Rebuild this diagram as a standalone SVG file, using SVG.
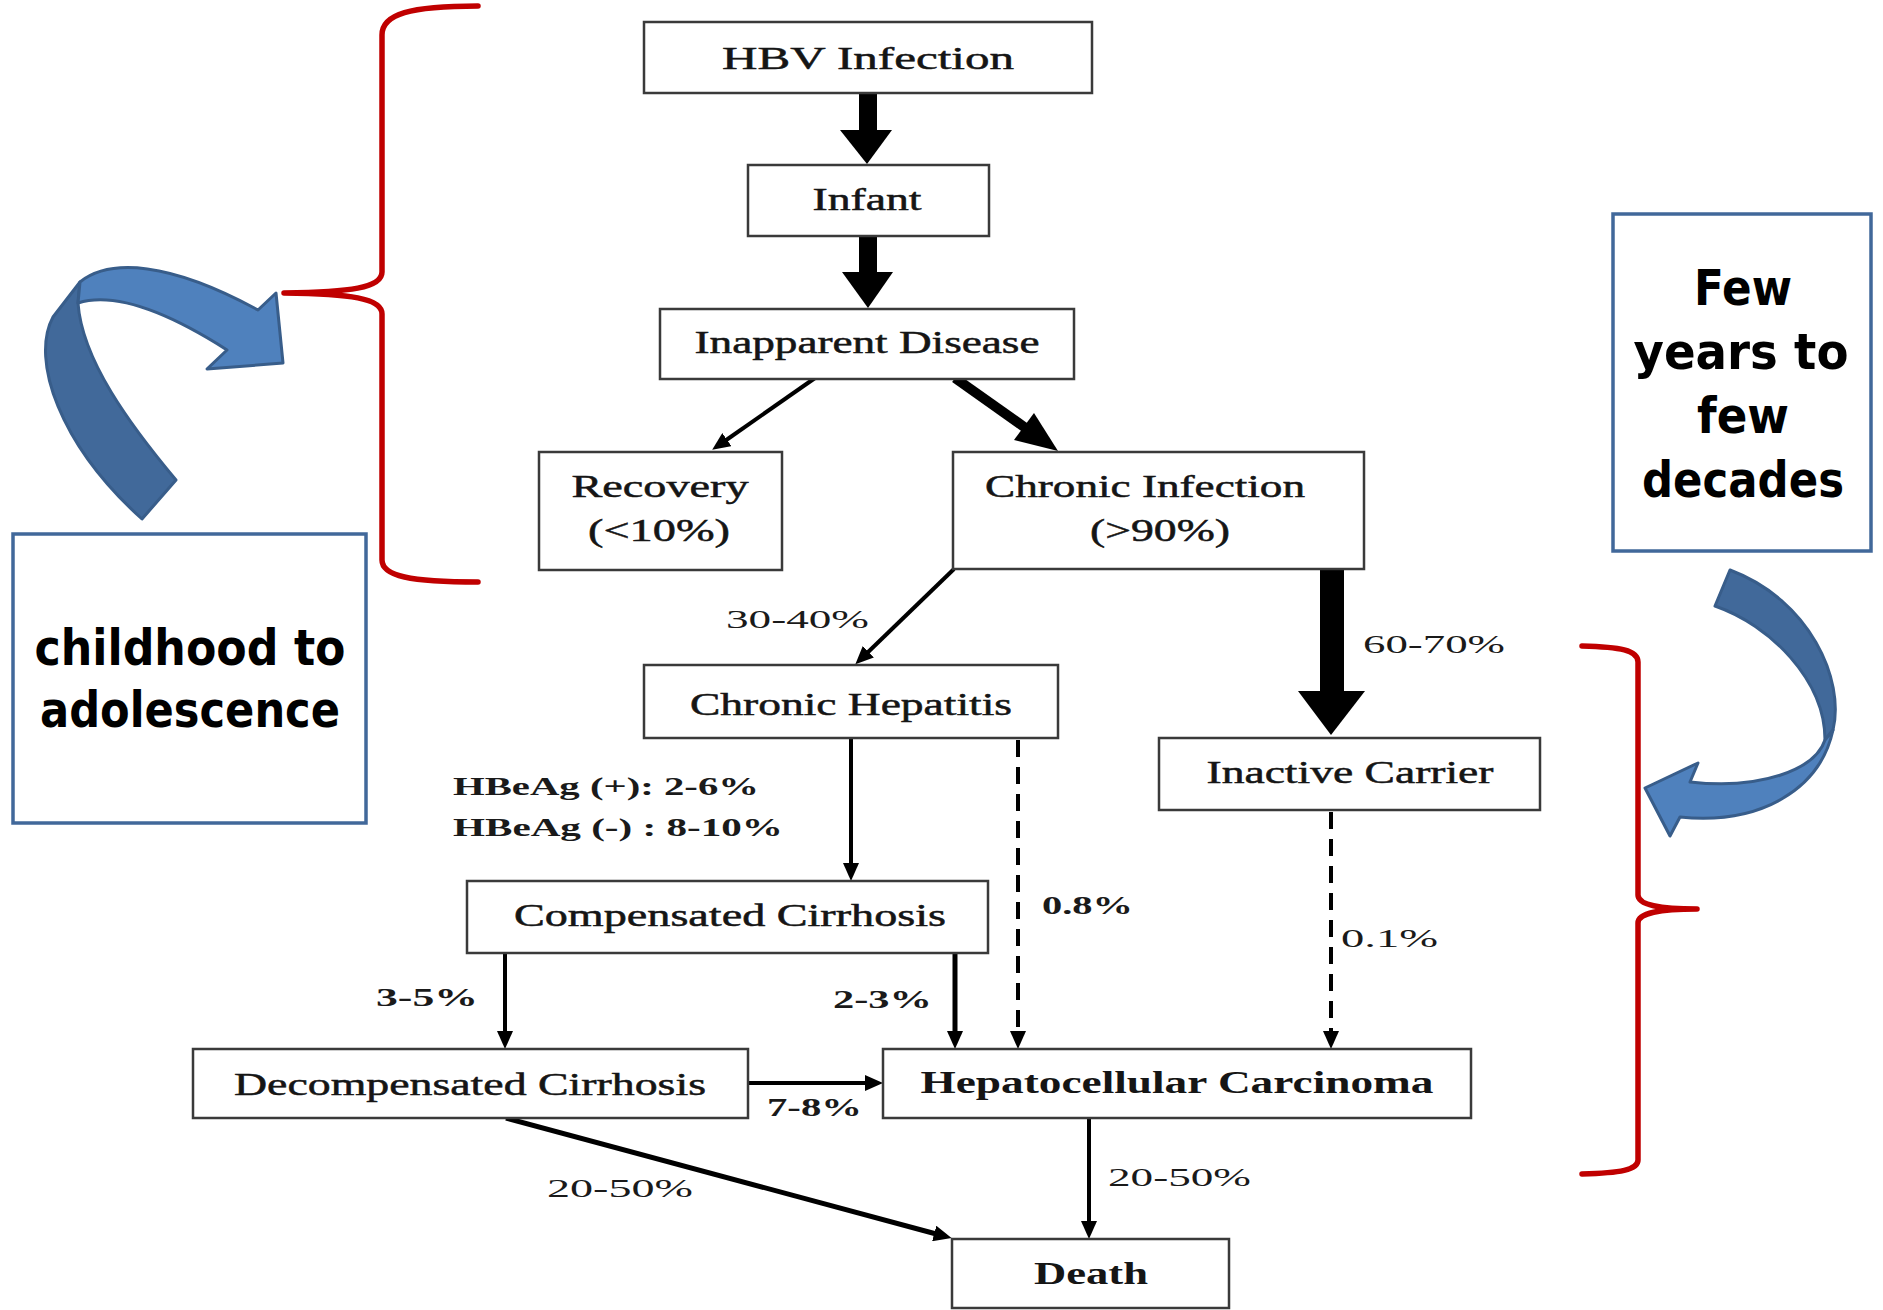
<svg xmlns="http://www.w3.org/2000/svg" width="1883" height="1310" viewBox="0 0 1883 1310">
<style>
.box{fill:#fff;stroke:#3a3a3a;stroke-width:2.5}
.nt{font-family:"Liberation Serif",serif;font-size:31px;fill:#151515;stroke:#151515;stroke-width:0.5;text-anchor:middle}
.nb{font-weight:bold;stroke-width:0}
.lb{font-family:"Liberation Serif",serif;font-size:26px;fill:#1a1a1a}
.lbb{font-weight:bold}
.ln{fill:none;stroke:#000;stroke-width:4}
.dash{stroke-dasharray:17 10}
.big{fill:#000;stroke:none}
.brace{fill:none;stroke:#C00000;stroke-width:5.5;stroke-linecap:round;stroke-linejoin:round}
.note{fill:#fff;stroke:#41689a;stroke-width:3.5}
.nte{font-family:"DejaVu Sans",sans-serif;font-weight:bold;font-size:50px;fill:#000;text-anchor:middle}
.ad{fill:#41699A;stroke:#385D8A;stroke-width:3;stroke-linejoin:round}
.al{fill:#4F81BD;stroke:#385D8A;stroke-width:3;stroke-linejoin:round}
</style>
<defs>
<marker id="ah" markerUnits="userSpaceOnUse" markerWidth="18" markerHeight="16" refX="6" refY="8" orient="auto">
<path d="M0,0 L18,8 L0,16 Z" fill="#000"/>
</marker>
</defs>
<rect width="1883" height="1310" fill="#fff"/>

<g id="connectors">
<rect class="big" x="859" y="92" width="18" height="39"/>
<polygon class="big" points="840,130 892,130 867,164"/>
<rect class="big" x="859" y="236" width="18" height="37"/>
<polygon class="big" points="842,272 893,272 868,308"/>
<line class="ln" x1="815" y1="378" x2="722" y2="443" marker-end="url(#ah)"/>
<line class="ln" x1="955" y1="378" x2="1027" y2="429" style="stroke-width:10"/>
<polygon class="big" points="1014,440 1034,413 1058,451"/>
<line class="ln" x1="954" y1="569" x2="864" y2="656" marker-end="url(#ah)"/>
<rect class="big" x="1320" y="568" width="24" height="124"/>
<polygon class="big" points="1298,691 1365,691 1331,735"/>
<line class="ln" x1="851" y1="738" x2="851" y2="869" marker-end="url(#ah)"/>
<line class="ln dash" x1="1018" y1="740" x2="1018" y2="1037" marker-end="url(#ah)"/>
<line class="ln dash" x1="1331" y1="812" x2="1331" y2="1037" marker-end="url(#ah)"/>
<line class="ln" x1="505" y1="953" x2="505" y2="1037" marker-end="url(#ah)"/>
<line class="ln" x1="955" y1="953" x2="955" y2="1037" marker-end="url(#ah)" style="stroke-width:5"/>
<line class="ln" x1="748" y1="1083" x2="871" y2="1083" marker-end="url(#ah)"/>
<line class="ln" x1="1089" y1="1118" x2="1089" y2="1227" marker-end="url(#ah)"/>
<line class="ln" x1="506" y1="1118" x2="940" y2="1235" marker-end="url(#ah)" style="stroke-width:5"/>
</g>

<g id="hbv"><rect class="box" x="644" y="22" width="448" height="71"/><text class="nt" x="868" y="69" textLength="292" lengthAdjust="spacingAndGlyphs">HBV Infection</text></g>
<g id="infant"><rect class="box" x="748" y="165" width="241" height="71"/><text class="nt" x="867" y="210" textLength="109" lengthAdjust="spacingAndGlyphs">Infant</text></g>
<g id="inapparent"><rect class="box" x="660" y="309" width="414" height="70"/><text class="nt" x="867" y="353" textLength="345" lengthAdjust="spacingAndGlyphs">Inapparent Disease</text></g>
<g id="recovery"><rect class="box" x="539" y="452" width="243" height="118"/><text class="nt" x="660" y="497" textLength="177" lengthAdjust="spacingAndGlyphs">Recovery</text><text class="nt" x="659" y="541" textLength="142" lengthAdjust="spacingAndGlyphs">(&lt;10%)</text></g>
<g id="chronic-infection"><rect class="box" x="953" y="452" width="411" height="117"/><text class="nt" x="1145" y="497" textLength="320" lengthAdjust="spacingAndGlyphs">Chronic Infection</text><text class="nt" x="1160" y="541" textLength="140" lengthAdjust="spacingAndGlyphs">(&gt;90%)</text></g>
<g id="chronic-hepatitis"><rect class="box" x="644" y="665" width="414" height="73"/><text class="nt" x="851" y="715" textLength="322" lengthAdjust="spacingAndGlyphs">Chronic Hepatitis</text></g>
<g id="inactive-carrier"><rect class="box" x="1159" y="738" width="381" height="72"/><text class="nt" x="1350" y="783" textLength="287" lengthAdjust="spacingAndGlyphs">Inactive Carrier</text></g>
<g id="compensated"><rect class="box" x="467" y="881" width="521" height="72"/><text class="nt" x="730" y="926" textLength="432" lengthAdjust="spacingAndGlyphs">Compensated Cirrhosis</text></g>
<g id="decompensated"><rect class="box" x="193" y="1049" width="555" height="69"/><text class="nt" x="470" y="1095" textLength="472" lengthAdjust="spacingAndGlyphs">Decompensated Cirrhosis</text></g>
<g id="hcc"><rect class="box" x="883" y="1049" width="588" height="69"/><text class="nt nb" x="1177" y="1093" textLength="513" lengthAdjust="spacingAndGlyphs">Hepatocellular Carcinoma</text></g>
<g id="death"><rect class="box" x="952" y="1239" width="277" height="69"/><text class="nt nb" x="1091" y="1284" textLength="114" lengthAdjust="spacingAndGlyphs">Death</text></g>

<g id="labels">
<text class="lb" x="726" y="628" textLength="143" lengthAdjust="spacingAndGlyphs">30-40%</text>
<text class="lb" x="1363" y="653" textLength="142" lengthAdjust="spacingAndGlyphs">60-70%</text>
<text class="lb lbb" x="453" y="795" textLength="306" lengthAdjust="spacingAndGlyphs">HBeAg (+): 2-6%</text>
<text class="lb lbb" x="453" y="836" textLength="330" lengthAdjust="spacingAndGlyphs">HBeAg (-) : 8-10%</text>
<text class="lb lbb" x="1042" y="914" textLength="91" lengthAdjust="spacingAndGlyphs">0.8%</text>
<text class="lb" x="1341" y="947" textLength="97" lengthAdjust="spacingAndGlyphs">0.1%</text>
<text class="lb lbb" x="376" y="1006" textLength="102" lengthAdjust="spacingAndGlyphs">3-5%</text>
<text class="lb lbb" x="833" y="1008" textLength="99" lengthAdjust="spacingAndGlyphs">2-3%</text>
<text class="lb lbb" x="767" y="1116" textLength="95" lengthAdjust="spacingAndGlyphs">7-8%</text>
<text class="lb" x="547" y="1197" textLength="146" lengthAdjust="spacingAndGlyphs">20-50%</text>
<text class="lb" x="1108" y="1186" textLength="143" lengthAdjust="spacingAndGlyphs">20-50%</text>
</g>

<g id="brace-left"><path class="brace" d="M478,6 C410,6 382,14 382,35 L382,272 C382,288 350,292 284,293 C350,294 382,298 382,314 L382,560 C382,576 410,582 478,582"/></g>
<g id="brace-right"><path class="brace" d="M1582,646 C1620,647 1638,650 1638,662 L1638,895 C1638,905 1660,909 1697,909 C1660,909 1638,913 1638,923 L1638,1160 C1638,1170 1620,1173 1582,1174"/></g>

<g id="arrow-left">
<path class="ad" d="M142,519 L176,480 C130,425 82,360 78,303 L80,282 L53,317 C30,360 60,445 142,519 Z"/>
<path class="al" d="M80,282 C110,258 170,262 258,310 L276,293 L283,363 L207,369 L227,350 C180,320 120,290 78,303 Z"/>
</g>
<g id="arrow-right">
<path class="ad" d="M1730,570 L1715,606 C1770,625 1825,680 1825,740 L1833,730 C1845,680 1810,600 1730,570 Z"/>
<path class="al" d="M1833,730 C1820,790 1760,825 1680,817 L1670,836 L1645,788 L1698,763 L1690,782 C1760,790 1815,770 1825,740 Z"/>
</g>

<g id="note-childhood"><rect class="note" x="13" y="534" width="353" height="289"/>
<text class="nte" x="190" y="665" textLength="311" lengthAdjust="spacingAndGlyphs">childhood to</text>
<text class="nte" x="190" y="727" textLength="300" lengthAdjust="spacingAndGlyphs">adolescence</text></g>
<g id="note-years"><rect class="note" x="1613" y="214" width="258" height="337"/>
<text class="nte" x="1743" y="305" textLength="98" lengthAdjust="spacingAndGlyphs">Few</text>
<text class="nte" x="1741" y="369" textLength="215" lengthAdjust="spacingAndGlyphs">years to</text>
<text class="nte" x="1743" y="433" textLength="92" lengthAdjust="spacingAndGlyphs">few</text>
<text class="nte" x="1743" y="497" textLength="202" lengthAdjust="spacingAndGlyphs">decades</text></g>
</svg>
